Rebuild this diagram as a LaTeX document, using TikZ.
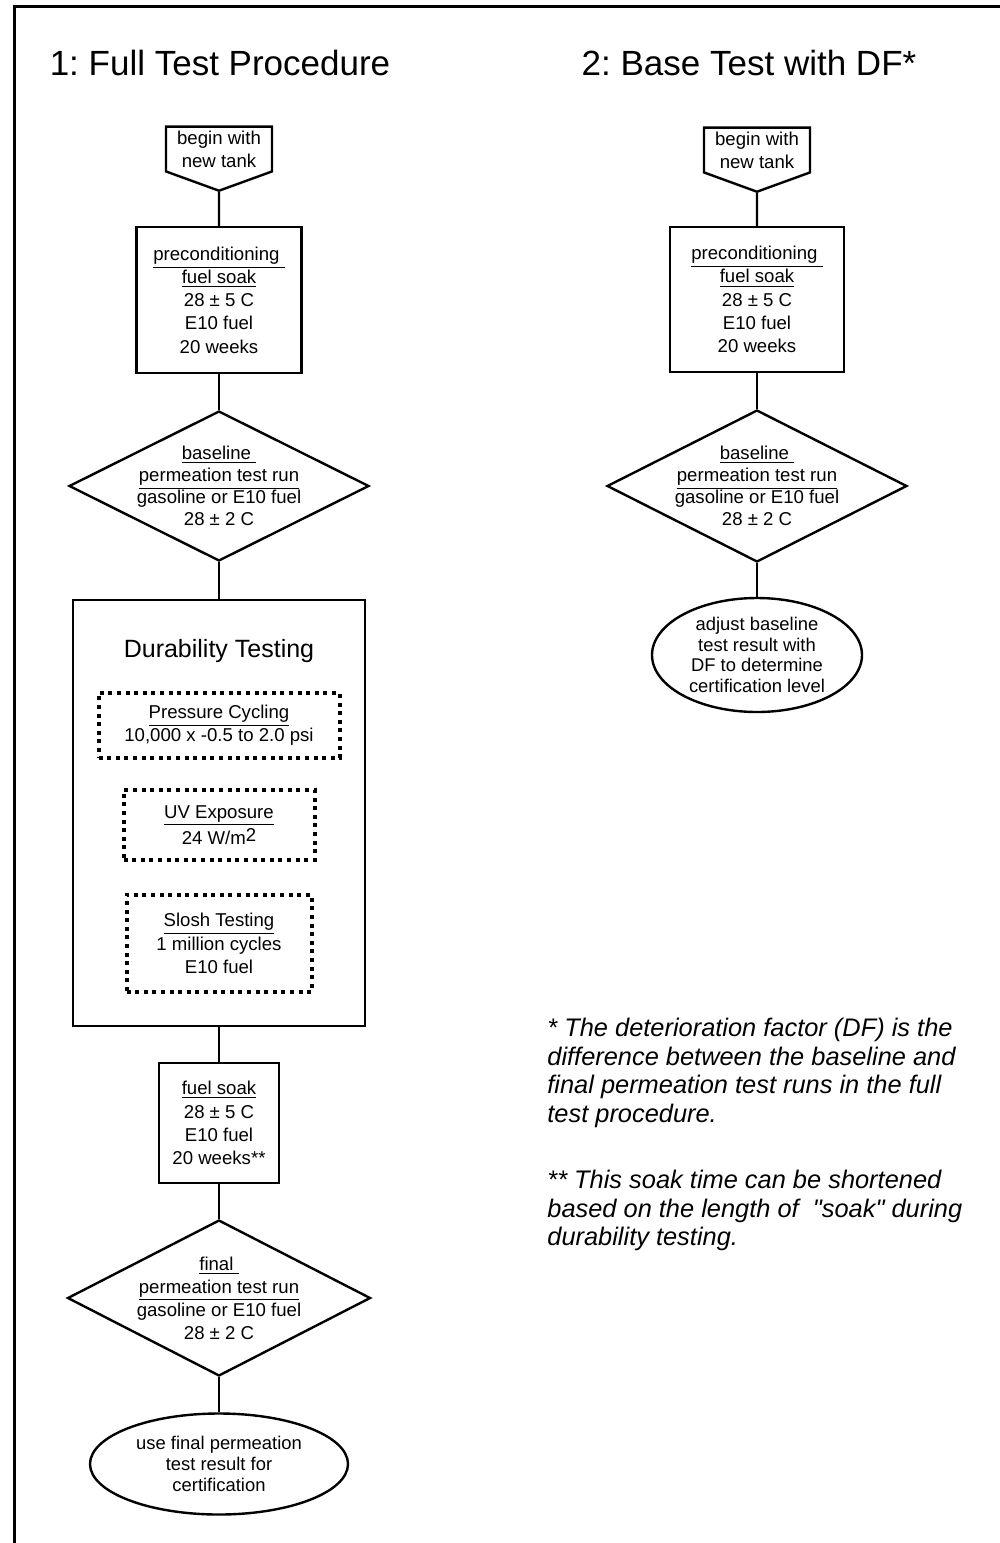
\documentclass[tikz,border=0pt]{standalone}
\usepackage{fontspec}
\setmainfont{Liberation Sans}
\usetikzlibrary{shapes, shapes.geometric, shapes.symbols}
\frenchspacing
\tikzstyle{start} = [signal, signal to=south, signal from=nowhere,
    signal pointer angle=140, draw, line width=1.2pt, align=center,
    minimum width=53pt, inner xsep=0pt, inner ysep=2pt]
\tikzstyle{block} = [rectangle, draw, line width=1.2pt, align=center,
    inner sep=0pt]
\tikzstyle{dotbox} = [rectangle, draw, line width=2pt, align=center,
    dash pattern=on 2pt off 2.3pt, inner sep=0pt]
\tikzstyle{decision} = [diamond, draw, line width=1.2pt, inner sep=0pt]
\tikzstyle{stop} = [ellipse, draw, line width=1.2pt, inner sep=0pt]
\tikzstyle{shapetext} = [align=center, inner sep=0pt]
\tikzstyle{title} = [font=\fontsize{17.5}{21}\selectfont, inner sep=0pt]
\tikzstyle{footnote} = [font=\fontsize{12.7}{14.25}\selectfont\itshape,
    align=left, inner sep=0pt, anchor=north west]
\tikzstyle{line} = [draw, line width=1.2pt]

\begin{document}
\begin{tikzpicture}[x=0.5pt, y=-0.5pt, font=\fontsize{9.3}{11.6}\selectfont]
    \useasboundingbox (0,0) rectangle (1000,1543);
    % Frame
    \draw [line width=1.5pt] (1000,6) -- (14,6) -- (14,1543);
    % Titles
    \node [title] (title1) at (220,63) {1: Full Test Procedure};
    \node [title] (title2) at (749,63) {2: Base Test with DF*};
    % Nodes: full test procedure
    \node [start] (begin1) at (219,149) {begin with\\new tank};
    \node [block, below of=begin1, node distance=75.5pt, minimum width=82.5pt, minimum height=73pt] (prec1)
        {\underline{preconditioning\ }\\\underline{fuel soak}\\28 ± 5 C\\E10 fuel\\20 weeks};
    \node [decision, below of=prec1, node distance=93pt, minimum width=150pt, minimum height=75pt] (base1) {};
    \node [shapetext, font=\fontsize{9.3}{11}\selectfont] (base1txt) at (base1)
        {\underline{baseline\ }\\\underline{permeation test run}\\gasoline or E10 fuel\\28 ± 2 C};
    \node [block, below of=base1, node distance=163.5pt, minimum width=146pt, minimum height=213pt] (dur) {};
    \node [above of=dur, node distance=81pt, font=\fontsize{12.5}{15}\selectfont, inner sep=0pt] (durtitle)
        {Durability Testing};
    \node [dotbox, below of=durtitle, node distance=37.25pt, minimum width=120.5pt, minimum height=32.5pt] (press)
        {\underline{Pressure Cycling}\\10,000 x -0.5 to 2.0 psi};
    \node [dotbox, below of=press, node distance=49.75pt, minimum width=95.5pt, minimum height=35pt] (uv)
        {\underline{UV Exposure}\\24 W/m\raisebox{0.35ex}{2}};
    \node [dotbox, below of=uv, node distance=59.25pt, minimum width=92.5pt, minimum height=48.5pt] (slosh)
        {\underline{Slosh Testing}\\1 million cycles\\E10 fuel};
    \node [block, below of=dur, node distance=155pt, minimum width=60pt, minimum height=60pt] (soak)
        {\underline{fuel soak}\\28 ± 5 C\\E10 fuel\\20 weeks**};
    \node [decision, below of=soak, node distance=87.5pt, minimum width=151.5pt, minimum height=78pt] (final) {};
    \node [shapetext, font=\fontsize{9.3}{11.5}\selectfont] (finaltxt) at (final)
        {\underline{final\ }\\\underline{permeation test run}\\gasoline or E10 fuel\\28 ± 2 C};
    \node [stop, below of=final, node distance=83pt, minimum width=129pt, minimum height=50.5pt] (use) {};
    \node [shapetext, font=\fontsize{9.2}{10.3}\selectfont] (usetxt) at (use)
        {use final permeation\\test result for\\certification};
    % Nodes: base test with DF
    \node [start] (begin2) at (757,150) {begin with\\new tank};
    \node [block, below of=begin2, node distance=74.75pt, minimum width=87pt, minimum height=72.5pt] (prec2)
        {\underline{preconditioning\ }\\\underline{fuel soak}\\28 ± 5 C\\E10 fuel\\20 weeks};
    \node [decision, below of=prec2, node distance=93.25pt, minimum width=150pt, minimum height=76pt] (base2) {};
    \node [shapetext, font=\fontsize{9.3}{11}\selectfont] (base2txt) at (base2)
        {\underline{baseline\ }\\\underline{permeation test run}\\gasoline or E10 fuel\\28 ± 2 C};
    \node [stop, below of=base2, node distance=84.5pt, minimum width=105pt, minimum height=57pt] (adjust) {};
    \node [shapetext, font=\fontsize{9.2}{10.3}\selectfont] (adjusttxt) at (adjust)
        {adjust baseline\\test result with\\DF to determine\\certification level};
    % Footnotes
    \node [footnote] (note1) at (547,1018)
        {* The deterioration factor (DF) is the\\difference between the baseline and\\final permeation test runs in the full\\test procedure.};
    \node [footnote] (note2) at (547,1170)
        {** This soak time can be shortened\\based on the length of\ \ \textquotedbl soak\textquotedbl\ during\\durability testing.};
    % Edges
    \path [line] (begin1) -- (prec1);
    \path [line] (prec1) -- (base1);
    \path [line] (base1) -- (dur);
    \path [line] (dur) -- (soak);
    \path [line] (soak) -- (final);
    \path [line] (final) -- (use);
    \path [line] (begin2) -- (prec2);
    \path [line] (prec2) -- (base2);
    \path [line] (base2) -- (adjust);
\end{tikzpicture}
\end{document}
